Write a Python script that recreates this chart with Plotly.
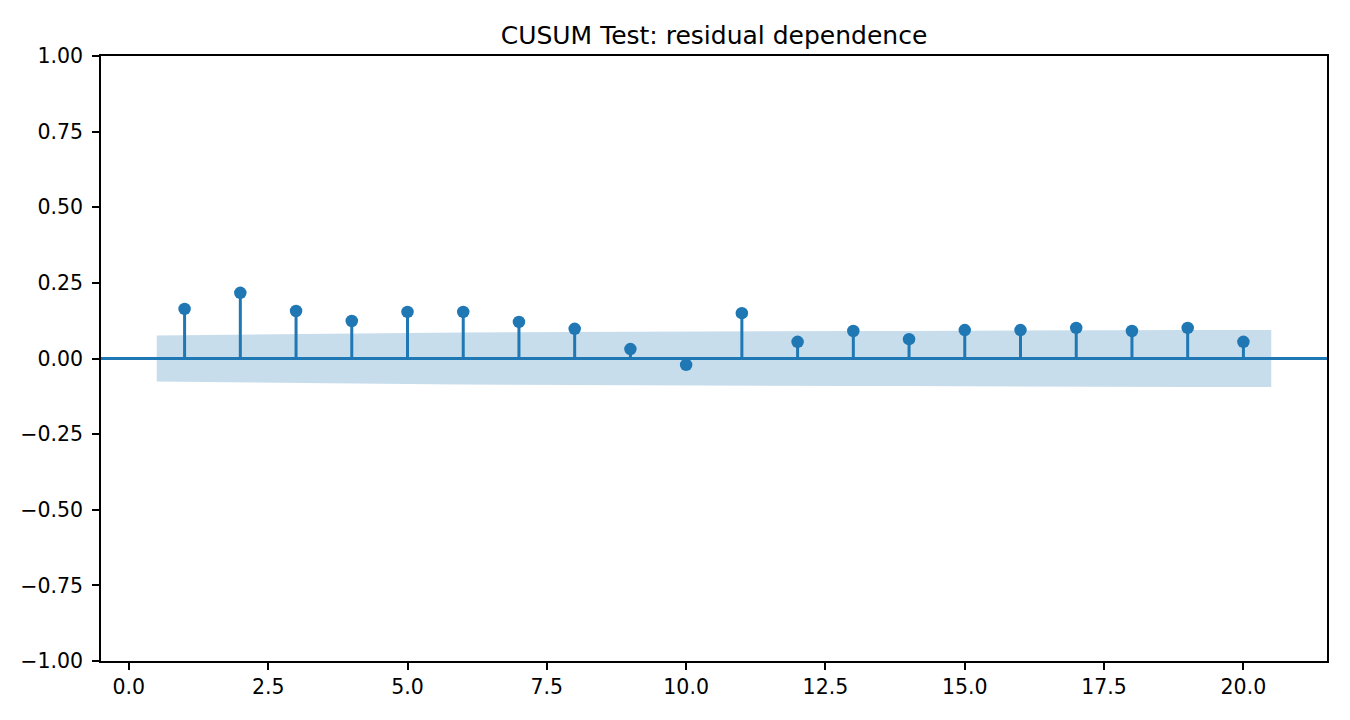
import plotly.graph_objects as go

# autocorrelation of residuals, lags 1..20
lags = list(range(1, 21))
acf_vals = [0.164, 0.217, 0.157, 0.124, 0.154, 0.154, 0.121, 0.098, 0.031, -0.021,
            0.150, 0.055, 0.091, 0.064, 0.094, 0.094, 0.101, 0.091, 0.101, 0.055]
# half-width of the 95% confidence band at each lag
conf_half = [0.076, 0.078, 0.081, 0.083, 0.084, 0.086, 0.087, 0.088, 0.089, 0.089,
             0.089, 0.090, 0.091, 0.091, 0.092, 0.092, 0.093, 0.093, 0.094, 0.094]

blue = '#1f77b4'
font = 'DejaVu Sans'

# band edges stretched half a lag at both ends
band_x = [float(k) for k in lags]
band_x[0] -= 0.5
band_x[-1] += 0.5

fig = go.Figure()
fig.add_trace(go.Scatter(x=band_x, y=[-c for c in conf_half], mode='lines',
                         line=dict(width=0), hoverinfo='skip', showlegend=False))
fig.add_trace(go.Scatter(x=band_x, y=conf_half, mode='lines', fill='tonexty',
                         fillcolor='rgba(31,119,180,0.25)', line=dict(width=0),
                         hoverinfo='skip', showlegend=False))

# stems
sx, sy = [], []
for k, v in zip(lags, acf_vals):
    sx += [k, k, None]
    sy += [0, v, None]
fig.add_trace(go.Scatter(x=sx, y=sy, mode='lines', line=dict(color=blue, width=3),
                         showlegend=False))
fig.add_hline(y=0, line=dict(color=blue, width=3))
fig.add_trace(go.Scatter(x=lags, y=acf_vals, mode='markers',
                         marker=dict(color=blue, size=12.5), showlegend=False))

axis = dict(showline=True, mirror=True, linecolor='black', linewidth=1.6,
            ticks='outside', ticklen=7, tickwidth=1.6, tickcolor='black',
            showgrid=False, zeroline=False,
            tickfont=dict(family=font, size=20.5, color='black'))
fig.update_xaxes(axis, range=[-0.5, 21.5], tickmode='array',
                 tickvals=[0, 2.5, 5, 7.5, 10, 12.5, 15, 17.5, 20], tickformat='.1f')
fig.update_yaxes(axis, range=[-1, 1], tickmode='array', ticklabelstandoff=5,
                 tickvals=[-1, -0.75, -0.5, -0.25, 0, 0.25, 0.5, 0.75, 1], tickformat='.2f')

# page body adds an 8px offset, so margins are shifted to compensate
fig.update_layout(
    width=1350, height=720,
    margin=dict(l=93, r=31, t=48, b=67),
    plot_bgcolor='white', paper_bgcolor='white',
    title=dict(text='CUSUM Test: residual dependence', x=0.5, xref='paper',
               y=1 - 27 / 720, yref='container', yanchor='middle', xanchor='center',
               font=dict(family=font, size=25, color='black')),
)

fig.write_html("out.html")
